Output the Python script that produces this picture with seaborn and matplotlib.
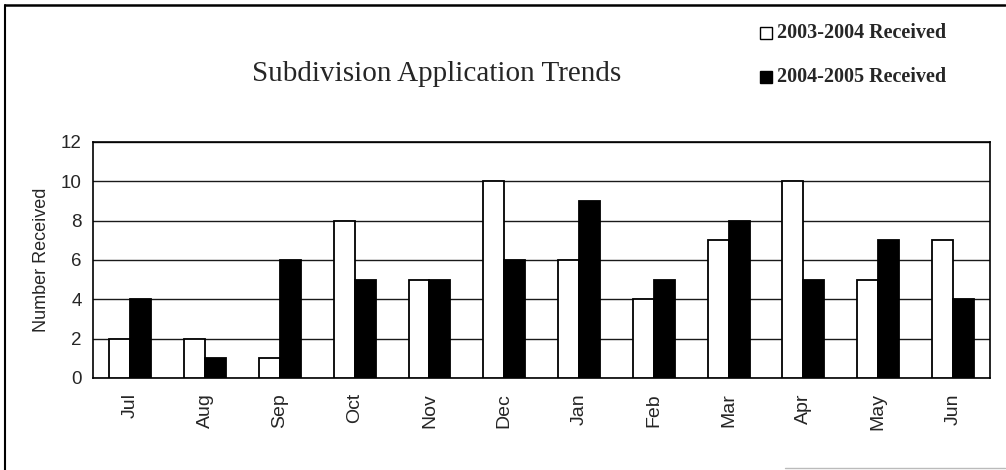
import pandas as pd
import numpy as np
import matplotlib
matplotlib.use('Agg')
import matplotlib.pyplot as plt
from matplotlib.patches import Rectangle
from matplotlib.lines import Line2D
import seaborn as sns

# Datos del gráfico
meses = ['Jul', 'Aug', 'Sep', 'Oct', 'Nov', 'Dec', 'Jan', 'Feb', 'Mar', 'Apr', 'May', 'Jun']
recibidos_0304 = [2, 2, 1, 8, 5, 10, 6, 4, 7, 10, 5, 7]
recibidos_0405 = [4, 1, 6, 5, 5, 6, 9, 5, 8, 5, 7, 4]
series = ['2003-2004 Received', '2004-2005 Received']

df = pd.DataFrame({
    'mes': meses * 2,
    'valor': recibidos_0304 + recibidos_0405,
    'serie': [series[0]] * len(meses) + [series[1]] * len(meses),
})

sns.set_style('white')
plt.rcParams['font.family'] = ['Liberation Sans', 'DejaVu Sans']
serif = ['Liberation Serif', 'DejaVu Serif']

fig = plt.figure(figsize=(10.06, 4.70), dpi=100)
ax = fig.add_axes([0.0924, 0.196, 0.892, 0.502])

sns.barplot(data=df, x='mes', y='valor', hue='serie', order=meses,
            hue_order=series, palette=['white', 'black'], width=0.56,
            edgecolor='black', linewidth=1.3, ax=ax, legend=False, zorder=3)

ax.set_ylim(0, 12)
ax.set_xlim(-0.5, len(meses) - 0.5)
ax.set_yticks(range(0, 13, 2))
ax.yaxis.grid(True, color='#1a1a1a', linewidth=1.0, zorder=0)
ax.set_axisbelow(True)
for s in ax.spines.values():
    s.set_color('black')
    s.set_linewidth(1.2)

# marcas entre categorías
ax.set_xticks(np.arange(-0.5, len(meses), 1.0), minor=True)
ax.tick_params(axis='x', which='minor', length=5, width=1.2, color='black', direction='out')
ax.tick_params(axis='x', which='major', length=0, pad=11)
ax.tick_params(axis='y', length=4, width=1.2, color='black', direction='out', labelsize=13.5, pad=4)
ax.set_xticks(range(len(meses)))
ax.set_xticklabels(meses, rotation=90, fontsize=14)
ax.set_xlabel('')
ax.set_ylabel('Number Received', fontsize=13, labelpad=8)

# Título y leyenda en serif
fig.text(0.434, 0.842, 'Subdivision Application Trends', ha='center', va='center',
         fontsize=21, family=serif)
for i, (nombre, color) in enumerate(zip(series, ['white', 'black'])):
    y = 0.930 - i * 0.094
    fig.patches.append(Rectangle((0.7555, y - 0.0125), 0.0120, 0.0255, transform=fig.transFigure,
                                 facecolor=color, edgecolor='black', linewidth=1))
    fig.text(0.7725, y, nombre, ha='left', va='center', fontsize=14.5, fontweight='bold',
             family=serif)

# Marco exterior (escaneado: izquierda y arriba marcados, abajo tenue)
fig.lines.append(Line2D([0.005, 0.005], [0.0, 0.989], transform=fig.transFigure,
                        color='black', linewidth=1.5))
fig.lines.append(Line2D([0.005, 0.999], [0.989, 0.989], transform=fig.transFigure,
                        color='black', linewidth=1.8))
fig.lines.append(Line2D([0.78, 0.999], [0.004, 0.004], transform=fig.transFigure,
                        color='#bbbbbb', linewidth=1.0))

plt.savefig('out.png', dpi=100)
